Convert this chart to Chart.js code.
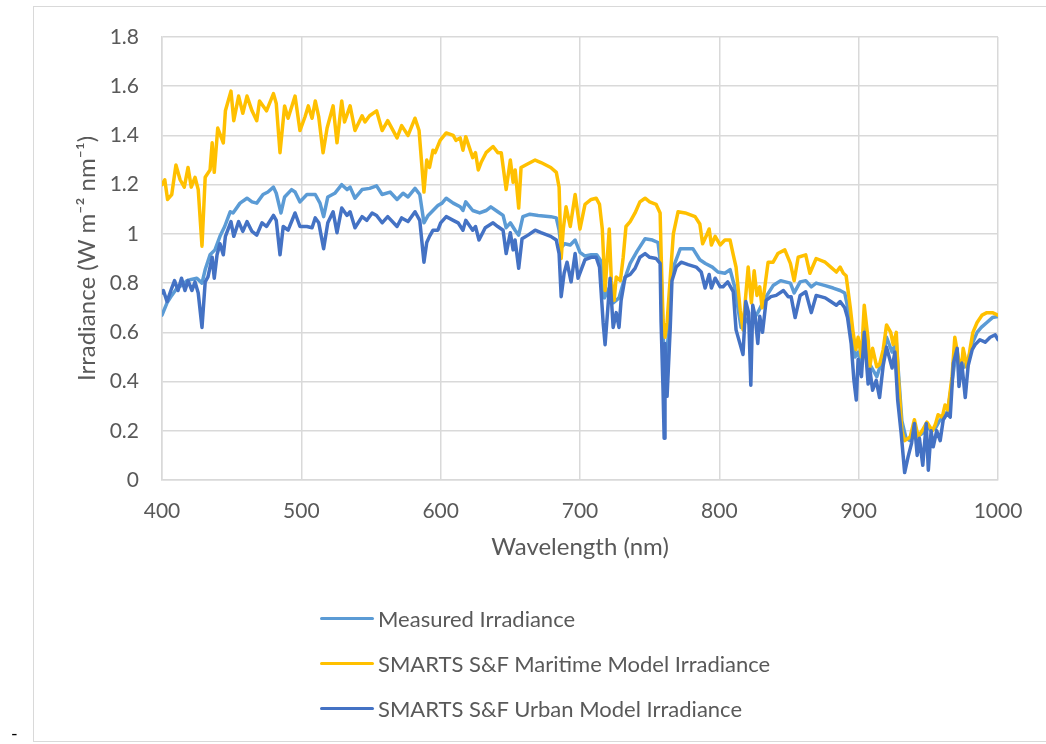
<!DOCTYPE html>
<html>
<head>
<meta charset="utf-8">
<script src="https://cdn.jsdelivr.net/npm/chart.js@4/dist/chart.umd.min.js"></script>
<style>
  html, body { margin: 0; padding: 0; background: #fff; }
  body { width: 1046px; height: 744px; position: relative; overflow: hidden; font-family: Lato, "Open Sans", sans-serif; }
  #frame { position: absolute; left: 33px; top: 6px; width: 1013px; height: 736px; border: 1px solid #d9d9d9; border-right: none; box-sizing: border-box; }
  #wrap { position: absolute; left: 0; top: 0; width: 1046px; height: 744px; }
  #legend { position: absolute; left: 320px; top: 596px; color: #595959; font-size: 22px; }
  .item { height: 45px; display: flex; align-items: center; }
  .swatch { width: 54px; height: 3.5px; border-radius: 2px; margin-right: 4px; }
  #dash { position: absolute; left: 11px; top: 722px; font-size: 18px; color: #000; }
</style>
</head>
<body>
<div id="frame"></div>
<div id="wrap"><canvas id="c_irr" width="1046" height="744"></canvas></div>
<div id="legend"></div>
<div id="dash">-</div>
<script>
const c_irr = document.getElementById('c_irr');

// wavelength (nm) and irradiance
const measuredWl = [400, 403.6, 407, 410.8, 414, 418, 421, 425, 428.7, 431, 434.5, 438, 441.6, 445, 449, 451, 456, 461, 464.6, 468, 472.5, 476, 480, 482, 485.4, 488, 493, 495.5, 499, 504, 510, 513.4, 516, 519, 524, 529, 532.8, 535, 538.5, 543.6, 549, 554, 558, 563.7, 568.7, 573, 576.6, 581.6, 585, 588, 591, 594.5, 598, 601, 604, 609, 614, 616, 618, 623, 628, 632.6, 636, 641, 644.8, 647, 650, 653.4, 656, 659, 664, 670, 679, 683, 685, 686.5, 689, 693, 696.5, 700, 703.6, 708, 712, 715, 717.5, 721, 724, 728, 731, 736, 741, 746.7, 752, 756, 758, 760, 761.5, 763.5, 766, 772, 781, 786, 790, 795, 799, 804, 807.7, 811, 815.6, 818, 822, 827.6, 833, 838.6, 844, 851, 853.7, 858, 862, 866, 869.5, 876, 881.7, 886.7, 890, 894, 897.5, 899.6, 902, 904, 907, 910, 913, 917.6, 920, 924, 927, 929, 931, 934, 937, 940, 943, 946, 949, 952, 955, 958, 961, 964, 967, 970, 973, 976, 979, 982, 985, 988, 992, 996, 1000];
const measuredVals = [0.67, 0.72, 0.75, 0.78, 0.79, 0.81, 0.815, 0.82, 0.80, 0.855, 0.915, 0.935, 0.99, 1.03, 1.09, 1.085, 1.125, 1.145, 1.13, 1.125, 1.16, 1.17, 1.19, 1.165, 1.085, 1.15, 1.18, 1.17, 1.13, 1.16, 1.16, 1.125, 1.07, 1.15, 1.165, 1.20, 1.18, 1.19, 1.145, 1.18, 1.185, 1.195, 1.16, 1.17, 1.14, 1.165, 1.15, 1.185, 1.16, 1.045, 1.075, 1.095, 1.115, 1.125, 1.145, 1.125, 1.11, 1.095, 1.13, 1.095, 1.085, 1.095, 1.11, 1.09, 1.075, 1.025, 1.045, 1.015, 0.995, 1.07, 1.08, 1.075, 1.07, 1.065, 1.015, 0.945, 0.96, 0.955, 0.975, 0.925, 0.91, 0.915, 0.915, 0.89, 0.74, 0.78, 0.72, 0.74, 0.80, 0.88, 0.93, 0.98, 0.975, 0.965, 0.87, 0.55, 0.45, 0.60, 0.85, 0.94, 0.94, 0.895, 0.88, 0.865, 0.845, 0.84, 0.855, 0.785, 0.62, 0.66, 0.63, 0.68, 0.74, 0.79, 0.81, 0.80, 0.76, 0.805, 0.81, 0.785, 0.80, 0.79, 0.78, 0.77, 0.76, 0.65, 0.50, 0.52, 0.46, 0.62, 0.48, 0.45, 0.42, 0.50, 0.58, 0.52, 0.56, 0.40, 0.24, 0.17, 0.16, 0.21, 0.18, 0.19, 0.22, 0.20, 0.21, 0.24, 0.26, 0.28, 0.40, 0.52, 0.45, 0.46, 0.50, 0.56, 0.60, 0.62, 0.64, 0.66, 0.665];

const maritimeWl = [400, 402, 404, 407, 410, 413, 416, 418.7, 421, 423.7, 426, 428.7, 431, 434.5, 436, 437.5, 440, 444, 445.5, 449.5, 451.5, 455, 458, 461, 464.6, 468, 470, 475, 480, 482, 484.7, 488, 490.5, 495.5, 499, 502.6, 505, 507.7, 510, 512.5, 515.6, 518.5, 522.8, 525.6, 529, 531, 535, 538.5, 543.6, 545.7, 549, 554, 558, 562, 568.7, 572, 576.6, 581.6, 584.5, 588, 590, 592, 594.5, 596, 599.6, 604, 609, 611, 614, 616, 618, 623, 625, 627, 629, 632.6, 637.6, 641, 643.5, 647, 650, 652, 653.5, 656, 657.7, 661, 667.8, 672, 679, 683, 685, 686.5, 688, 690, 693, 696.5, 700, 703.6, 708, 711.6, 714, 716, 718, 721, 722.5, 724.5, 726, 729, 731, 733, 736, 739.5, 743, 746.7, 750, 754.6, 757.5, 758.3, 759.6, 761, 762.5, 765, 767, 770.4, 775.5, 782.6, 786, 788, 790.5, 792.7, 794.3, 797, 800.6, 804, 807.7, 810, 812, 815, 817, 818.5, 820.7, 823, 825, 827, 829, 830.7, 833, 835, 838.6, 842, 847, 851, 853.7, 856.6, 862, 865, 869.5, 876, 880, 884, 886.7, 889, 891, 894, 896, 898, 899.6, 902, 904, 906.8, 908, 910, 913, 915, 917.6, 920, 923, 924.8, 927, 928.3, 931, 933, 937, 940, 942.7, 945.5, 949, 952.8, 955, 957, 960, 962, 964, 967, 969, 971, 973.6, 975, 978, 980, 982, 985, 988.6, 992, 996, 1000];
const maritimeVals = [1.20, 1.22, 1.14, 1.16, 1.28, 1.22, 1.19, 1.27, 1.19, 1.23, 1.18, 0.95, 1.23, 1.26, 1.37, 1.25, 1.43, 1.37, 1.50, 1.58, 1.46, 1.56, 1.49, 1.56, 1.50, 1.46, 1.54, 1.50, 1.57, 1.53, 1.33, 1.52, 1.47, 1.56, 1.42, 1.475, 1.52, 1.47, 1.54, 1.475, 1.33, 1.43, 1.52, 1.37, 1.54, 1.455, 1.52, 1.42, 1.48, 1.455, 1.48, 1.50, 1.42, 1.46, 1.39, 1.44, 1.40, 1.47, 1.42, 1.17, 1.30, 1.27, 1.34, 1.33, 1.38, 1.41, 1.40, 1.38, 1.39, 1.34, 1.395, 1.31, 1.33, 1.26, 1.29, 1.33, 1.355, 1.33, 1.33, 1.18, 1.30, 1.21, 1.26, 1.105, 1.27, 1.28, 1.30, 1.29, 1.27, 1.25, 1.19, 0.90, 1.02, 1.11, 1.03, 1.16, 1.02, 1.12, 1.14, 1.145, 1.12, 1.02, 0.77, 1.02, 0.81, 0.73, 0.825, 0.81, 0.905, 1.03, 1.05, 1.085, 1.13, 1.145, 1.13, 1.12, 1.085, 0.905, 0.65, 0.58, 0.64, 0.84, 1.00, 1.09, 1.085, 1.07, 1.04, 0.96, 0.99, 1.02, 0.955, 0.99, 0.955, 0.975, 0.975, 0.915, 0.865, 0.69, 0.61, 0.72, 0.865, 0.72, 0.85, 0.75, 0.785, 0.70, 0.80, 0.885, 0.885, 0.92, 0.935, 0.88, 0.81, 0.905, 0.915, 0.84, 0.90, 0.885, 0.865, 0.845, 0.865, 0.84, 0.83, 0.70, 0.60, 0.53, 0.58, 0.50, 0.71, 0.57, 0.46, 0.535, 0.46, 0.47, 0.53, 0.63, 0.60, 0.55, 0.60, 0.435, 0.20, 0.16, 0.175, 0.245, 0.175, 0.20, 0.235, 0.20, 0.225, 0.265, 0.255, 0.305, 0.285, 0.42, 0.58, 0.515, 0.435, 0.535, 0.455, 0.535, 0.60, 0.64, 0.67, 0.68, 0.68, 0.67];

const urbanWl = [400, 401, 403.6, 407, 409, 411.5, 414, 416.5, 418.7, 421.5, 423.7, 426, 428.7, 431, 433, 436, 437.5, 439.5, 441.6, 444, 445.5, 449.5, 451.5, 455, 458, 461, 464.6, 468, 471.8, 475, 480, 482, 484.7, 487, 490.5, 495.5, 499, 504, 507.7, 510, 512.5, 516, 519, 522.8, 525.6, 529, 532.8, 535, 538.5, 543.6, 547, 550.8, 554, 558, 562, 568.7, 572, 576.6, 581.6, 585, 588, 590, 592, 594.5, 598, 600, 604, 609, 612.5, 616, 618, 623, 625, 627.5, 632, 637.6, 641, 644.8, 647, 650, 652, 653.4, 656, 658.4, 662.7, 667.8, 672, 679, 683, 685, 686.5, 688.6, 690.7, 693.6, 696.5, 698.6, 703.6, 708, 711.6, 714, 716.6, 718, 721.6, 723.8, 726, 728, 729.5, 732.4, 736, 739.5, 743, 746.7, 750, 754.6, 757.5, 758.2, 759.6, 760.4, 761, 762.5, 764.7, 766, 769, 772.6, 777.6, 783.4, 787, 789.8, 792.7, 794.3, 797, 800.6, 802.7, 806, 810, 812, 815, 817, 819, 821, 822.6, 824, 825.7, 827.6, 829, 831, 833.6, 837, 840.8, 846, 849.4, 851.5, 854.4, 858, 862, 866, 869.5, 876, 880, 884, 886.7, 890, 892, 894.6, 896.6, 898.3, 899.6, 902, 904, 906.8, 908, 910, 912.6, 915, 917.6, 920, 924, 926, 928, 930.5, 933, 935.5, 938, 940, 942, 943.6, 946, 948.5, 950, 952, 953.5, 956, 958.5, 960.7, 963.5, 965.7, 968, 970.7, 972, 974, 976.5, 978.6, 981.5, 983.6, 987, 990.8, 994.4, 998, 1000];
const urbanVals = [0.76, 0.77, 0.725, 0.78, 0.81, 0.77, 0.82, 0.77, 0.81, 0.77, 0.805, 0.76, 0.62, 0.805, 0.825, 0.905, 0.82, 0.915, 0.96, 0.915, 0.99, 1.05, 0.99, 1.05, 1.01, 1.05, 1.01, 0.995, 1.045, 1.03, 1.075, 1.055, 0.915, 1.03, 1.015, 1.085, 1.03, 1.03, 1.025, 1.065, 1.045, 0.94, 1.045, 1.09, 1.005, 1.105, 1.075, 1.09, 1.025, 1.07, 1.055, 1.085, 1.075, 1.045, 1.07, 1.03, 1.065, 1.05, 1.09, 1.055, 0.885, 0.965, 0.99, 1.015, 1.015, 1.045, 1.07, 1.055, 1.045, 1.015, 1.055, 1.015, 1.03, 0.975, 1.025, 1.045, 1.03, 1.015, 0.92, 1.005, 0.935, 0.975, 0.86, 0.98, 0.995, 1.015, 1.005, 0.99, 0.975, 0.92, 0.745, 0.84, 0.885, 0.805, 0.92, 0.82, 0.895, 0.905, 0.905, 0.865, 0.64, 0.55, 0.82, 0.62, 0.68, 0.62, 0.73, 0.825, 0.835, 0.86, 0.905, 0.92, 0.905, 0.90, 0.88, 0.64, 0.365, 0.17, 0.555, 0.34, 0.61, 0.81, 0.865, 0.885, 0.875, 0.865, 0.845, 0.78, 0.835, 0.78, 0.82, 0.785, 0.785, 0.805, 0.765, 0.61, 0.55, 0.51, 0.725, 0.68, 0.385, 0.71, 0.665, 0.555, 0.665, 0.60, 0.73, 0.745, 0.75, 0.77, 0.745, 0.745, 0.66, 0.75, 0.765, 0.68, 0.75, 0.74, 0.725, 0.71, 0.725, 0.70, 0.66, 0.555, 0.405, 0.325, 0.49, 0.42, 0.60, 0.39, 0.45, 0.365, 0.405, 0.335, 0.465, 0.54, 0.455, 0.52, 0.325, 0.19, 0.03, 0.095, 0.15, 0.23, 0.10, 0.17, 0.06, 0.23, 0.04, 0.20, 0.135, 0.20, 0.16, 0.245, 0.27, 0.255, 0.475, 0.535, 0.38, 0.475, 0.335, 0.465, 0.53, 0.55, 0.57, 0.56, 0.58, 0.59, 0.57];

const xTickLabels = ['400', '500', '600', '700', '800', '900', '1000'];
const yTickLabels = ['0', '0.2', '0.4', '0.6', '0.8', '1', '1.2', '1.4', '1.6', '1.8'];

function toPoints(xs, ys) {
    return xs.map((x, i) => ({ x: x, y: ys[i] }));
}

var irr_data = {
    type: 'line',
    data: {
        datasets: [
            {
                label: 'Measured Irradiance',
                data: toPoints(measuredWl, measuredVals),
                borderColor: '#5B9BD5',
                borderWidth: 3.5,
                order: 3
            },
            {
                label: 'SMARTS S&F Maritime Model Irradiance',
                data: toPoints(maritimeWl, maritimeVals),
                borderColor: '#FFC000',
                borderWidth: 3.5,
                order: 2
            },
            {
                label: 'SMARTS S&F Urban Model Irradiance',
                data: toPoints(urbanWl, urbanVals),
                borderColor: '#4472C4',
                borderWidth: 3.5,
                order: 1
            }
        ]
    },
    options: {
        responsive: false,
        animation: false,
        elements: {
            point: { radius: 0 },
            line: { tension: 0, borderJoinStyle: 'round', borderCapStyle: 'round' }
        },
        layout: {
            padding: { left: 69, top: 37, right: 48, bottom: 174 }
        },
        plugins: {
            legend: { display: false },
            tooltip: { enabled: false }
        },
        scales: {
            x: {
                type: 'linear',
                min: 400,
                max: 1000,
                ticks: {
                    stepSize: 100,
                    color: '#595959',
                    padding: 19,
                    font: { family: 'Lato', size: 21 },
                    callback: (v, i) => xTickLabels[i]
                },
                grid: { color: '#d9d9d9', lineWidth: 1.5, drawTicks: false },
                border: { color: '#d9d9d9', width: 1.5 },
                title: {
                    display: true,
                    text: 'Wavelength (nm)',
                    color: '#595959',
                    font: { family: 'Lato', size: 24 },
                    padding: { top: 4, bottom: 8 }
                },
                afterFit: (scale) => { scale.height = 90; }
            },
            y: {
                min: 0,
                max: 1.8,
                ticks: {
                    stepSize: 0.2,
                    color: '#595959',
                    padding: 23,
                    font: { family: 'Lato', size: 21 },
                    callback: (v, i) => yTickLabels[i]
                },
                grid: { color: '#d9d9d9', lineWidth: 1.5, drawTicks: false },
                border: { color: '#d9d9d9', width: 1.5 },
                title: {
                    display: true,
                    text: 'Irradiance (W m\u207B\u00B2 nm\u207B\u00B9)',
                    color: '#595959',
                    font: { family: 'Lato', size: 24 },
                    padding: { top: 4, bottom: 4 }
                },
                afterFit: (scale) => { scale.width = 93; }
            }
        }
    }
};

var chart_irr = new Chart(c_irr, irr_data);

// legend below, one entry per line, same order as the series
const legend = document.getElementById('legend');
chart_irr.data.datasets.forEach((ds) => {
    const row = document.createElement('div');
    row.className = 'item';
    const sw = document.createElement('span');
    sw.className = 'swatch';
    sw.style.background = ds.borderColor;
    const tx = document.createElement('span');
    tx.textContent = ds.label;
    row.appendChild(sw);
    row.appendChild(tx);
    legend.appendChild(row);
});
</script>
</body>
</html>
